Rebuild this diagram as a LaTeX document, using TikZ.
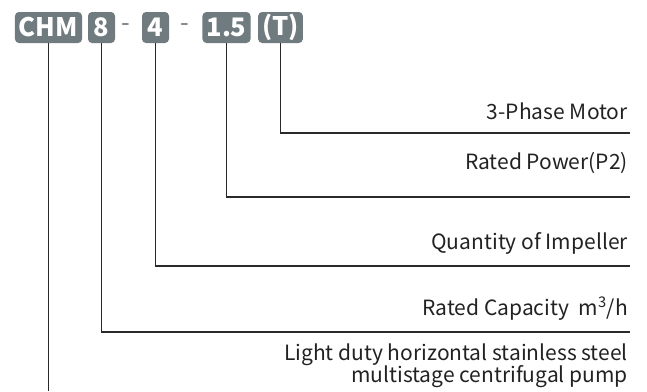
\documentclass[tikz,border=0pt]{standalone}
\usepackage{fontspec}
\setmainfont{Noto Sans CJK SC}
\definecolor{badgegray}{HTML}{6F7B7F}
\definecolor{linecol}{HTML}{2A2A2A}
\definecolor{txtcol}{HTML}{222222}
\begin{document}
\begin{tikzpicture}[x=1pt,y=-1pt,
  badge/.style={fill=badgegray,rounded corners=4pt,text=white,font=\fontsize{25.5}{25.5}\selectfont\bfseries,
    minimum height=31pt,inner xsep=4pt,inner ysep=0pt,anchor=center},
  dashsym/.style={text=badgegray,font=\fontsize{25}{25}\selectfont,inner sep=0pt},
  label/.style={text=txtcol,font=\fontsize{21}{21}\selectfont,anchor=base east,inner sep=0pt},
  conn/.style={draw=linecol,line width=1.2pt}]
\useasboundingbox (0,0) rectangle (647,391);
% badges
\node[badge,minimum width=65pt] (chm) at (48.5,27.5) {CHM};
\node[badge,minimum width=27pt] (b8) at (101.5,27.5) {8};
\node[dashsym] (d1) at (126,28) {-};
\node[badge,minimum width=27pt] (b4) at (155.5,27.5) {4};
\node[dashsym] (d2) at (185,28) {-};
\node[badge,minimum width=47pt] (b15) at (226.5,27.5) {1.5};
\node[badge,minimum width=43pt] (bt) at (280.5,27.5) {(T)};
% right ends
\coordinate (et) at (630,133);
\coordinate (e15) at (630,197);
\coordinate (e4) at (630,266);
\coordinate (e8) at (630,332);
\coordinate (echm) at (chm.south |- 0,391);
% labels
\node[label] (lt) at (628,119) {3-Phase Motor};
\node[label] (l15) at (628,169) {Rated Power(P2)};
\node[label] (l4) at (628,249) {Quantity of Impeller};
\node[label] (l8) at (628,315) {Rated Capacity\ \ m\textsuperscript{3}/h};
\node[label] (lchm1) at (628,360) {Light duty horizontal stainless steel};
\node[label] (lchm2) at (628,382) {multistage centrifugal pump};
% connectors
\draw[conn] (bt.south) |- (et);
\draw[conn] (b15.south) |- (e15);
\draw[conn] (b4.south) |- (e4);
\draw[conn] (b8.south) |- (e8);
\draw[conn] (chm.south) -- (echm);
\end{tikzpicture}
\end{document}
